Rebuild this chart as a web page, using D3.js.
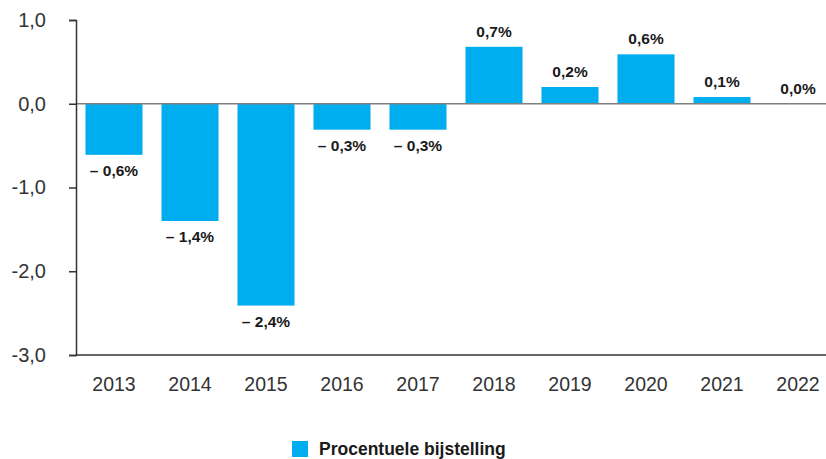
<!DOCTYPE html>
<html>
<head>
<meta charset="utf-8">
<script src="https://cdn.jsdelivr.net/npm/d3@7"></script>
<style>
    html, body { margin: 0; padding: 0; background: #fff; }
    svg { display: block; font-family: "Liberation Sans", Arial, sans-serif; }
</style>
</head>
<body>
<div id="chart"></div>
<script>
// Data
const years = ['2013', '2014', '2015', '2016', '2017', '2018', '2019', '2020', '2021', '2022'];
const adjustments = [-0.61, -1.40, -2.41, -0.31, -0.31, 0.68, 0.20, 0.59, 0.08, 0.0];
const valueLabels = ['– 0,6%', '– 1,4%', '– 2,4%', '– 0,3%', '– 0,3%', '0,7%', '0,2%', '0,6%', '0,1%', '0,0%'];
const yTicks = [1, 0, -1, -2, -3];
const legendLabel = 'Procentuele bijstelling';

const width = 826;
const height = 459;
const margin = { top: 20, right: -10, bottom: 104, left: 76 };
const barColor = '#00aeef';

const svg = d3.select('#chart')
    .append('svg')
    .attr('width', width)
    .attr('height', height);

// Scales
const x = d3.scaleBand()
    .domain(years)
    .range([margin.left, width - margin.right])
    .paddingInner(0.25)
    .paddingOuter(0.125);

const y = d3.scaleLinear()
    .domain([-3, 1])
    .range([height - margin.bottom, margin.top]);

const data = years.map((yr, i) => ({ year: yr, value: adjustments[i], label: valueLabels[i] }));

// Bars
svg.append('g')
    .selectAll('rect')
    .data(data)
    .join('rect')
    .attr('x', d => x(d.year))
    .attr('width', x.bandwidth())
    .attr('y', d => y(Math.max(0, d.value)))
    .attr('height', d => Math.abs(y(d.value) - y(0)))
    .attr('fill', barColor);

// Zero line
svg.append('line')
    .attr('x1', margin.left)
    .attr('x2', width)
    .attr('y1', y(0))
    .attr('y2', y(0))
    .attr('stroke', '#808080')
    .attr('stroke-width', 1.5);

// Y axis
const yAxis = svg.append('g')
    .attr('transform', `translate(${margin.left},0)`)
    .call(d3.axisLeft(y)
        .tickValues(yTicks)
        .tickSize(7)
        .tickPadding(23)
        .tickFormat(d => d3.format('.1f')(d).replace('.', ',').replace('−', '-')));

yAxis.select('.domain').attr('stroke', '#333').attr('stroke-width', 1.5);
yAxis.selectAll('.tick line').attr('stroke', '#333').attr('stroke-width', 1.5);
yAxis.selectAll('.tick text')
    .attr('fill', '#333')
    .style('font-size', '20px');

// X axis
const xAxis = svg.append('g')
    .attr('transform', `translate(0,${y(-3)})`)
    .call(d3.axisBottom(x).tickSize(0).tickPadding(22));

xAxis.select('.domain')
    .attr('d', `M${margin.left},0H${width}`)
    .attr('stroke', '#333')
    .attr('stroke-width', 1.5);
xAxis.selectAll('.tick text')
    .attr('fill', '#333')
    .style('font-size', '19.5px');

// Value labels
svg.append('g')
    .selectAll('text')
    .data(data)
    .join('text')
    .attr('x', d => x(d.year) + x.bandwidth() / 2)
    .attr('y', d => d.value < 0 ? y(d.value) + 21 : y(d.value) - 10)
    .attr('text-anchor', 'middle')
    .attr('fill', '#1a1a1a')
    .style('font-size', '15.5px')
    .style('font-weight', 'bold')
    .text(d => d.label);

// Legend
const legend = svg.append('g')
    .attr('transform', 'translate(292,441)');

legend.append('rect')
    .attr('width', 16)
    .attr('height', 16)
    .attr('fill', barColor);

legend.append('text')
    .attr('x', 27)
    .attr('y', 14)
    .attr('fill', '#1a1a1a')
    .style('font-size', '17.5px')
    .style('font-weight', 'bold')
    .text(legendLabel);
</script>
</body>
</html>
